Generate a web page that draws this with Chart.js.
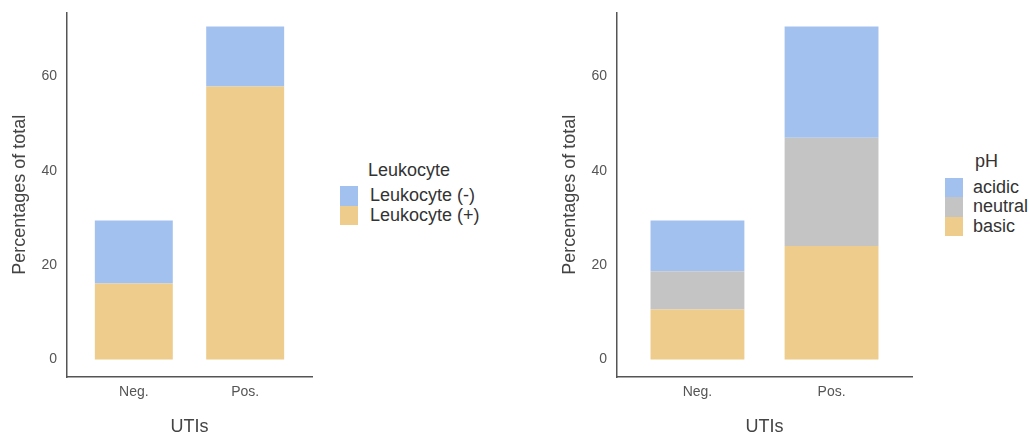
<!DOCTYPE html>
<html>
<head>
<meta charset="utf-8">
<script src="https://cdn.jsdelivr.net/npm/chart.js@4/dist/chart.umd.min.js"></script>
<style>
  html, body { margin: 0; background: #fff; overflow: hidden; font-family: "Liberation Sans", Arial, sans-serif; }
  .wrap { position: relative; width: 1030px; height: 432px; overflow: hidden; }
  .panel { position: absolute; top: 0; height: 440px; }
  .legend { position: absolute; color: #333; font-size: 18px; }
  .legend .ttl { line-height: 22px; margin-bottom: 5.5px; }
  .legend .row { display: flex; align-items: center; height: 19.6px; line-height: 19.6px; }
  .legend .key { width: 18px; height: 19.6px; }
</style>
</head>
<body>
<div class="wrap">
  <div class="panel" style="left:0;width:320px"><canvas id="leftChart"></canvas></div>
  <div class="panel" style="left:550px;width:370px"><canvas id="rightChart"></canvas></div>
  <div class="legend" id="leftLegend" style="left:340px;top:158.5px" data-gap="12" data-title="28"></div>
  <div class="legend" id="rightLegend" style="left:945px;top:150px" data-gap="10" data-title="30"></div>
</div>
<script>
// categories and tick labels
const categories = ['Neg.', 'Pos.'];
const yTicks = [0, 20, 40, 60];

// left panel: leukocyte
const leukPos = [16.1, 57.9];   // Leukocyte (+)
const leukNeg = [13.4, 12.7];   // Leukocyte (-)

// right panel: pH
const phBasic = [10.6, 24.1];
const phNeutral = [8.1, 22.9];
const phAcidic = [10.8, 23.6];

const BLUE = '#a3c1ee';
const GREY = '#c4c4c4';
const ORANGE = '#eecc8c';

const toPoints = vals => vals.map((v, i) => ({ x: i + 1, y: v }));

function makeOptions() {
  return {
    responsive: true,
    maintainAspectRatio: false,
    animation: false,
    layout: { padding: { top: 9, right: 8, bottom: 0, left: 0 } },
    plugins: { legend: { display: false }, tooltip: { enabled: false } },
    scales: {
      x: {
        type: 'linear',
        stacked: true,
        offset: false,
        min: 0.4,
        max: 2.6,
        grid: { display: false, offset: false, drawTicks: true, tickLength: 5, tickColor: '#444' },
        border: { color: '#555', width: 1.5 },
        afterBuildTicks: s => { s.ticks = categories.map((c, i) => ({ value: i + 1 })); },
        afterFit: s => { s.height = 63; },
        ticks: {
          callback: v => categories[v - 1],
          color: '#555',
          font: { size: 14, family: 'Liberation Sans' },
          padding: 2,
          maxRotation: 0
        },
        title: {
          display: true,
          text: 'UTIs',
          color: '#444',
          font: { size: 18, family: 'Liberation Sans' },
          padding: { top: 0, bottom: 2 }
        }
      },
      y: {
        stacked: true,
        min: -3.7,
        max: 73.6,
        grid: { display: false, drawTicks: true, tickLength: 6, tickColor: '#444' },
        border: { color: '#555', width: 1.5 },
        afterBuildTicks: s => { s.ticks = yTicks.map(v => ({ value: v })); },
        afterFit: s => { s.width = 67; },
        ticks: {
          color: '#555',
          font: { size: 14, family: 'Liberation Sans' },
          padding: 4
        },
        title: {
          display: true,
          text: 'Percentages of total',
          color: '#444',
          font: { size: 18, family: 'Liberation Sans' },
          padding: { top: 9, bottom: 0 }
        }
      }
    }
  };
}

const barStyle = { barPercentage: 0.7, categoryPercentage: 1, borderWidth: 0 };

const leftSeries = [
  { label: 'Leukocyte (+)', data: leukPos, color: ORANGE },
  { label: 'Leukocyte (-)', data: leukNeg, color: BLUE }
];
const rightSeries = [
  { label: 'basic', data: phBasic, color: ORANGE },
  { label: 'neutral', data: phNeutral, color: GREY },
  { label: 'acidic', data: phAcidic, color: BLUE }
];

function build(id, series) {
  return new Chart(document.getElementById(id), {
    type: 'bar',
    data: {
      datasets: series.map(s => Object.assign({
        label: s.label,
        data: toPoints(s.data),
        backgroundColor: s.color
      }, barStyle))
    },
    options: makeOptions()
  });
}

function legend(id, title, series) {
  const el = document.getElementById(id);
  const gap = el.dataset.gap, tpad = el.dataset.title;
  let html = '<div class="ttl" style="margin-left:' + tpad + 'px">' + title + '</div>';
  series.slice().reverse().forEach(s => {
    html += '<div class="row"><div class="key" style="background:' + s.color +
      ';margin-right:' + gap + 'px"></div>' + s.label + '</div>';
  });
  el.innerHTML = html;
}

build('leftChart', leftSeries);
build('rightChart', rightSeries);
legend('leftLegend', 'Leukocyte', leftSeries);
legend('rightLegend', 'pH', rightSeries);
</script>
</body>
</html>
